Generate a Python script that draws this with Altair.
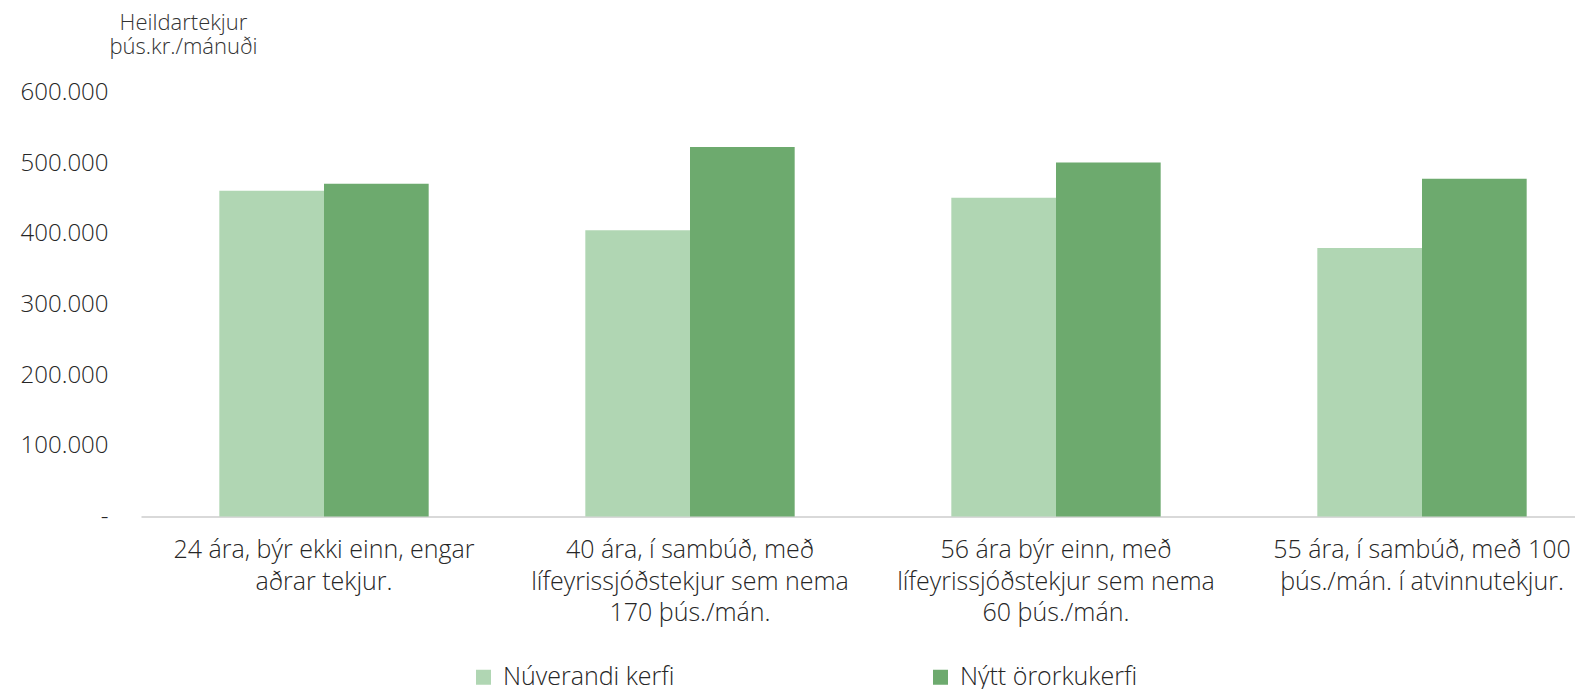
import altair as alt
import pandas as pd

# --- data -------------------------------------------------------------
categories = [
    "24 ára, býr ekki einn, engar|aðrar tekjur.",
    "40 ára, í sambúð, með|lífeyrissjóðstekjur sem nema|170 þús./mán.",
    "56 ára býr einn, með|lífeyrissjóðstekjur sem nema|60 þús./mán.",
    "55 ára, í sambúð, með 100|þús./mán. í atvinnutekjur.",
]
series = ["Núverandi kerfi", "Nýtt örorkukerfi"]
current_values = [461000, 405000, 451000, 380000]
new_values = [471000, 523000, 501000, 478000]
y_ticks = [0, 100000, 200000, 300000, 400000, 500000, 600000]
y_title = ["Heildartekjur", "þús.kr./mánuði"]
colors = ["#B0D6B3", "#6DAA6E"]

rows = []
for cat, v in zip(categories, current_values):
    rows.append({"category": cat, "series": series[0], "value": v})
for cat, v in zip(categories, new_values):
    rows.append({"category": cat, "series": series[1], "value": v})
df = pd.DataFrame(rows)

FONT = "Open Sans"
TEXT = "#262626"

chart = (
    alt.Chart(df)
    .mark_bar()
    .encode(
        x=alt.X(
            "category:N",
            sort=categories,
            scale=alt.Scale(range=[0, 1464], paddingInner=0.428, paddingOuter=0.214),
            axis=alt.Axis(
                title=None,
                labelExpr="split(datum.label, '|')",
                labelAngle=0,
                labelFont=FONT,
                labelFontSize=25,
                labelFontWeight=300,
                labelLineHeight=31.5,
                labelBaseline="top",
                labelPadding=21,
                labelLimit=1000,
                labelOverlap=False,
                labelColor=TEXT,
                ticks=False,
                domainColor="#D9D9D9",
                domainWidth=2,
            ),
        ),
        xOffset=alt.XOffset("series:N", sort=series),
        y=alt.Y(
            "value:Q",
            scale=alt.Scale(domain=[0, 600000], nice=False),
            axis=alt.Axis(
                values=y_ticks,
                labelExpr="datum.value == 0 ? '-' : format(datum.value / 1000, 'd') + '.000'",
                grid=False,
                domain=False,
                ticks=False,
                labelPadding=33,
                labelFont=FONT,
                labelFontSize=24,
                labelFontWeight=300,
                labelColor=TEXT,
                title=y_title,
                titleAngle=0,
                titleX=42,
                titleY=-63.5,
                titleAlign="center",
                titleBaseline="alphabetic",
                titleFont=FONT,
                titleFontSize=22,
                titleFontWeight=300,
                titleLineHeight=24,
                titleColor="#333333",
            ),
        ),
        color=alt.Color(
            "series:N",
            sort=series,
            scale=alt.Scale(domain=series, range=colors),
            legend=alt.Legend(
                title=None,
                orient="none",
                legendX=330,
                legendY=572,
                direction="horizontal",
                columns=2,
                columnPadding=253,
                padding=0,
                symbolType="square",
                symbolSize=225,
                symbolStrokeWidth=0,
                labelFont=FONT,
                labelFontSize=25,
                labelFontWeight=300,
                labelOffset=7,
                labelColor=TEXT,
                labelLimit=1000,
            ),
        ),
    )
    .properties(
        width=1434,
        height=424,
        autosize=alt.AutoSizeParams(type="none"),
        padding={"left": 133, "top": 84.5, "right": 0, "bottom": 172},
    )
    .configure_view(stroke=None)
)

chart.save("out.html", embed_options={"renderer": "svg", "actions": False})
